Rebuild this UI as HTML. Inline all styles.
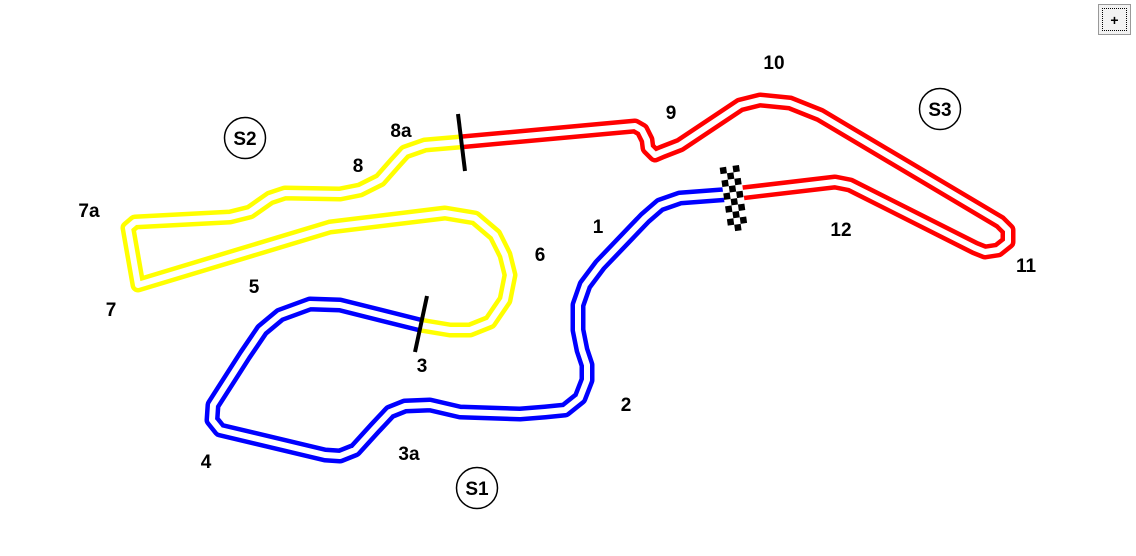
<!DOCTYPE html>
<html><head><meta charset="utf-8"><style>
html,body{margin:0;padding:0;background:#fff;}
body{width:1136px;height:556px;position:relative;overflow:hidden;font-family:"Liberation Sans",sans-serif;}
.btn{position:absolute;left:1098px;top:4px;width:33px;height:31px;border:1px solid #999;background:#f2f2f2;box-sizing:border-box;}
.btn div{position:absolute;left:3px;top:3px;right:3px;bottom:3px;border:1px dotted #000;font-size:14px;font-weight:bold;text-align:center;line-height:23px;}
</style></head><body>
<svg width="1136" height="556" style="position:absolute;left:0;top:0">
<g fill="none" stroke-linejoin="round" stroke-linecap="butt">
<polyline stroke="#0000ff" stroke-width="15" points="733,194 680,198 660,205 645,218 600,265 585,285 578,305 578,330 582,350 587,365 587,380 580,398 565,410 545,412 520,414 460,412 430,405 405,406 390,412 375,428 355,450 340,456 325,455 220,430 212,420 213,405 245,355 262,330 280,315 310,304 340,305 420,325"/>
<polyline stroke="#ffff00" stroke-width="15" points="420,325 450,330 470,330 490,322 505,300 510,275 505,255 495,235 475,218 445,213 330,227 138,285 128,228 135,222 230,217 250,212 270,198 285,193 340,194 360,190 380,180 395,163 405,152 425,145 460,142"/>
<polyline stroke="#ff0000" stroke-width="15" points="460,142 635,126 642,130 647,140 648,148 655,155 662,152 680,145 740,105 760,100 790,103 820,115 1000,222 1008,230 1008,242 998,250 985,252 975,248 850,185 835,182 733,194"/>
<polyline stroke="#fff" stroke-width="6" points="733,194 680,198 660,205 645,218 600,265 585,285 578,305 578,330 582,350 587,365 587,380 580,398 565,410 545,412 520,414 460,412 430,405 405,406 390,412 375,428 355,450 340,456 325,455 220,430 212,420 213,405 245,355 262,330 280,315 310,304 340,305 420,325 450,330 470,330 490,322 505,300 510,275 505,255 495,235 475,218 445,213 330,227 138,285 128,228 135,222 230,217 250,212 270,198 285,193 340,194 360,190 380,180 395,163 405,152 425,145 460,142 635,126 642,130 647,140 648,148 655,155 662,152 680,145 740,105 760,100 790,103 820,115 1000,222 1008,230 1008,242 998,250 985,252 975,248 850,185 835,182 733,194"/>
</g>
<line x1="458" y1="114" x2="465" y2="171" stroke="#000" stroke-width="4"/>
<line x1="427" y1="296" x2="415" y2="352" stroke="#000" stroke-width="4"/>
<g transform="translate(734,198) rotate(-8) translate(-10,-32)" fill="#000">
<rect x="0" y="0" width="20" height="65" fill="#fff"/>
<rect x="0" y="0" width="6.5" height="6.5"/><rect x="13" y="0" width="6.5" height="6.5"/>
<rect x="6.5" y="6.5" width="6.5" height="6.5"/>
<rect x="0" y="13" width="6.5" height="6.5"/><rect x="13" y="13" width="6.5" height="6.5"/>
<rect x="6.5" y="19.5" width="6.5" height="6.5"/>
<rect x="0" y="26" width="6.5" height="6.5"/><rect x="13" y="26" width="6.5" height="6.5"/>
<rect x="6.5" y="32.5" width="6.5" height="6.5"/>
<rect x="0" y="39" width="6.5" height="6.5"/><rect x="13" y="39" width="6.5" height="6.5"/>
<rect x="6.5" y="45.5" width="6.5" height="6.5"/>
<rect x="0" y="52" width="6.5" height="6.5"/><rect x="13" y="52" width="6.5" height="6.5"/>
<rect x="6.5" y="58.5" width="6.5" height="6.5"/>
</g>
<g fill="none" stroke="#000" stroke-width="1.5">
<circle cx="245" cy="138" r="20.5"/><circle cx="940" cy="109" r="20.5"/><circle cx="477" cy="488" r="20.5"/>
</g>
<g font-family="Liberation Sans, sans-serif" font-weight="bold" font-size="19" fill="#000" text-anchor="middle">
<text x="245" y="145">S2</text><text x="940" y="116">S3</text><text x="477" y="495">S1</text>
<text x="598" y="233">1</text>
<text x="626" y="411">2</text>
<text x="422" y="372">3</text>
<text x="409" y="460">3a</text>
<text x="206" y="468">4</text>
<text x="254" y="293">5</text>
<text x="540" y="261">6</text>
<text x="111" y="316">7</text>
<text x="89" y="217">7a</text>
<text x="358" y="172">8</text>
<text x="401" y="137">8a</text>
<text x="671" y="119">9</text>
<text x="774" y="69">10</text>
<text x="1026" y="272">11</text>
<text x="841" y="236">12</text>
</g>
</svg>
<div class="btn"><div>+</div></div>
</body></html>
